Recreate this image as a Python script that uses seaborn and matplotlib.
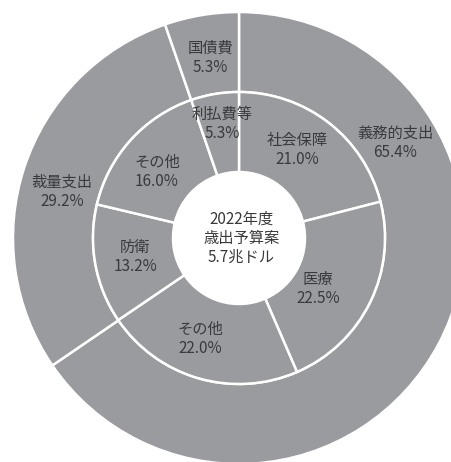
import matplotlib
matplotlib.use("Agg")
import matplotlib.pyplot as plt
import seaborn as sns

# Budget breakdown (share of total outlays, %)
outer_labels = ["義務的支出", "裁量支出", "国債費"]
outer_values = [65.4, 29.2, 5.3]
inner_labels = ["社会保障", "医療", "その他", "防衛", "その他", "利払費等"]
inner_values = [21.0, 22.5, 22.0, 13.2, 16.0, 5.3]
center_text = "2022年度\n歳出予算案\n5.7兆ドル"

# Label anchor points in axes units (ring radius = 1)
outer_label_pos = [(0.690, 0.420), (-0.783, 0.204), (-0.128, 0.796)]
inner_label_pos = [(0.257, 0.389), (0.350, -0.226), (-0.173, -0.447),
                   (-0.460, -0.084), (-0.363, 0.292), (-0.075, 0.504)]

sns.set_theme(style="white")
plt.rcParams["font.family"] = ["Noto Sans CJK JP", "DejaVu Sans"]

W, H = 452, 462
fig = plt.figure(figsize=(W / 100, H / 100), dpi=100)
fig.patch.set_facecolor("white")

cx, cy, R = 239, 238, 226
ax = fig.add_axes([(cx - R) / W, (H - cy - R) / H, 2 * R / W, 2 * R / H])

fill = "#9a9b9f"
txt = "#3a3a3c"
ring_w = 0.354
wp = dict(width=ring_w, edgecolor="white", linewidth=1.8)

ax.pie(outer_values, radius=1.0, startangle=90, counterclock=False,
       colors=[fill] * len(outer_values), wedgeprops=wp)
ax.pie(inner_values, radius=1.0 - ring_w, startangle=90, counterclock=False,
       colors=[fill] * len(inner_values), wedgeprops=wp)

for lab, val, (x, y) in zip(outer_labels, outer_values, outer_label_pos):
    ax.text(x, y, f"{lab}\n{val:.1f}%", ha="center", va="center",
            fontsize=11, color=txt, linespacing=1.15)
for lab, val, (x, y) in zip(inner_labels, inner_values, inner_label_pos):
    ax.text(x, y, f"{lab}\n{val:.1f}%", ha="center", va="center",
            fontsize=11, color=txt, linespacing=1.15)

ax.text(0.01, 0.0, center_text, ha="center", va="center",
        fontsize=11, color=txt, linespacing=1.15)

ax.set_xlim(-1, 1)
ax.set_ylim(-1, 1)
ax.set_aspect("equal")
ax.axis("off")

fig.savefig("out.png", dpi=100, facecolor="white")
